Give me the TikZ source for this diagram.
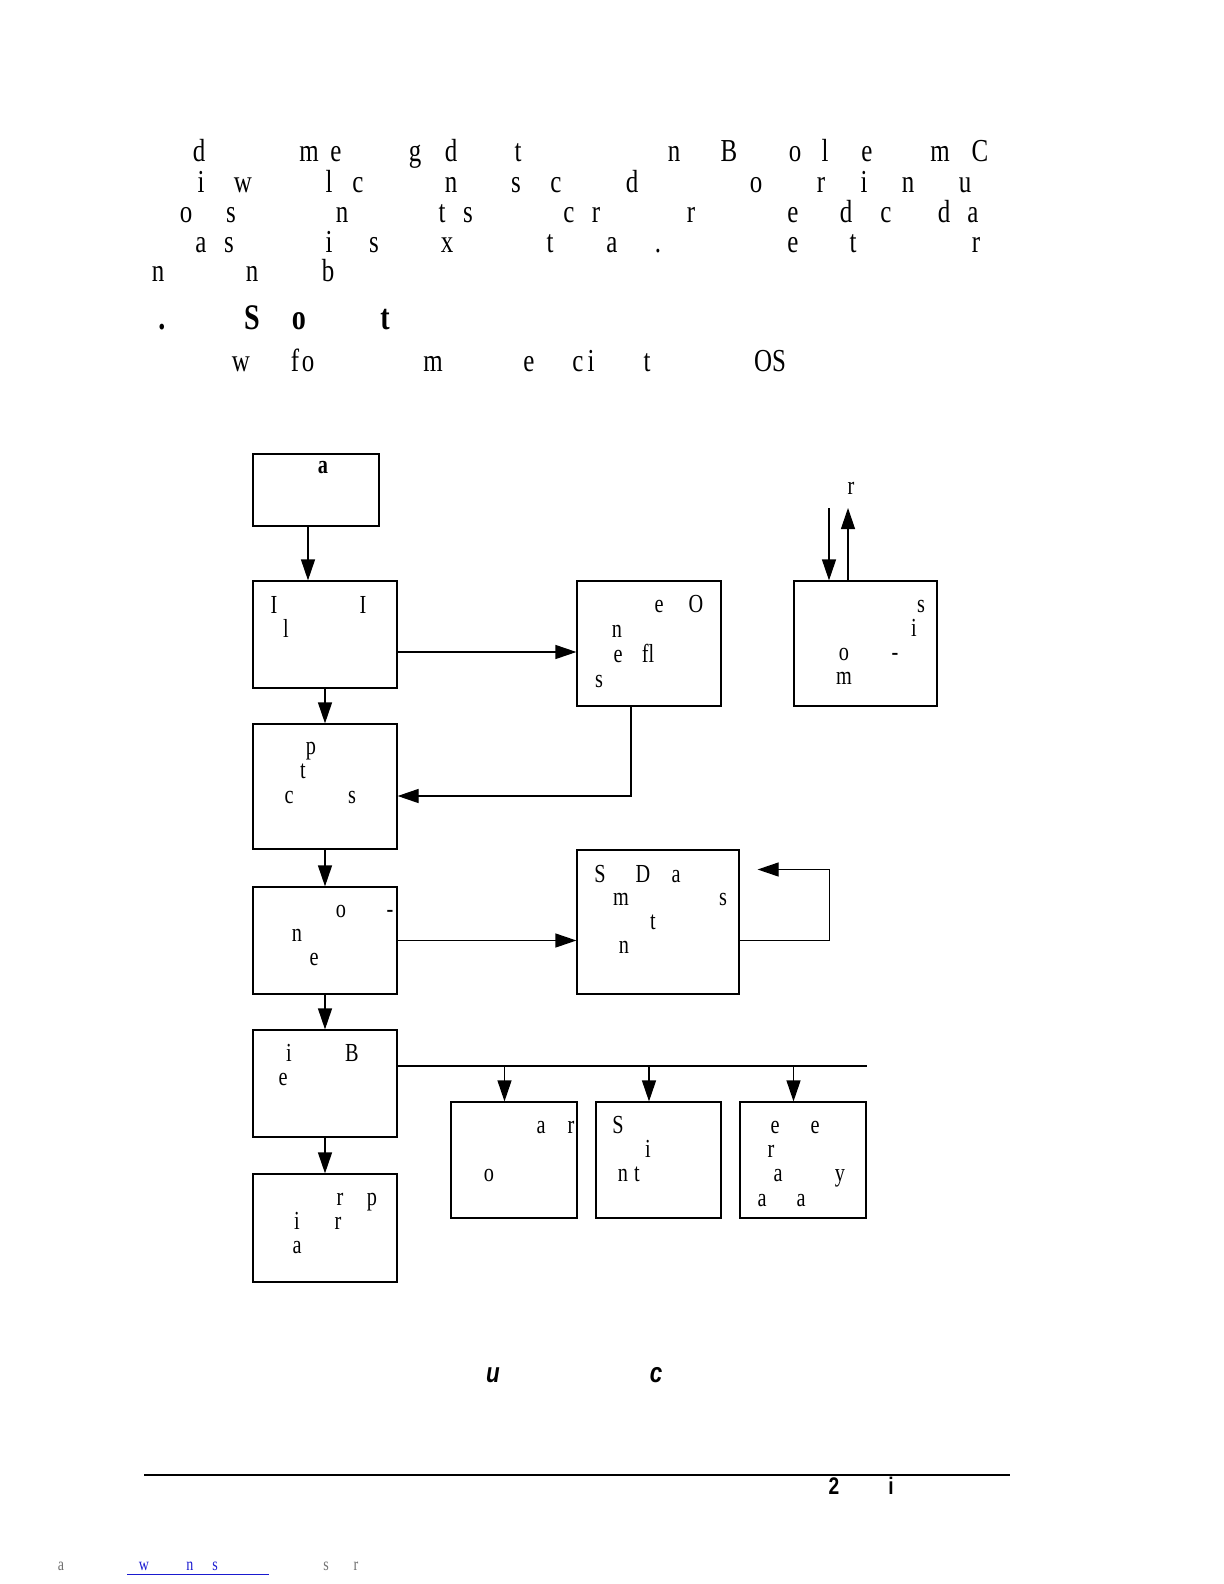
\documentclass[tikz,border=0pt]{standalone}
\usepackage{fontspec}
\newfontfamily\pageserif{Liberation Serif}[FakeStretch=0.78]
\newfontfamily\pagesans{Liberation Sans}[FakeStretch=0.8]
\usetikzlibrary{arrows.meta}
\definecolor{LinkBlue}{HTML}{1A1AD0}
\definecolor{NoteGray}{HTML}{707070}
\tikzset{
  page glyph/.style={anchor=base,inner sep=0pt,font=\pageserif\fontsize{16}{18}\selectfont},
  page head/.style={page glyph,font=\pageserif\bfseries\fontsize{18}{21}\selectfont},
  box glyph/.style={page glyph,font=\pageserif\fontsize{13}{15}\selectfont},
  box title/.style={page glyph,font=\pageserif\bfseries\fontsize{13}{15}\selectfont},
  page box/.style={draw,line width=0.6pt,inner sep=0pt},
  page flow/.style={-{Triangle[length=10.5pt,width=7pt]},line width=0.6pt},
  page line/.style={line width=0.6pt},
  caption glyph/.style={anchor=base,inner sep=0pt,font=\pagesans\bfseries\itshape\fontsize{14}{16}\selectfont},
  foot glyph/.style={anchor=base,inner sep=0pt,font=\pagesans\bfseries\fontsize{12}{14}\selectfont},
  note glyph/.style={anchor=base,inner sep=0pt,text=NoteGray,font=\pageserif\fontsize{9}{11}\selectfont},
  link glyph/.style={note glyph,text=LinkBlue}
}
\begin{document}
\begin{tikzpicture}[x=0.5pt,y=-0.5pt]
  \useasboundingbox (0,0) rectangle (1224,1584);

  % running text above the figure
  \foreach \cx/\t [count=\i] in {199/d,309/m,336/e,415/g,451/d,518/t,674/n,729/B,795/o,825/l,867/e,940/m,980/C}
    \node[page glyph] (ta\i) at (\cx,162) {\t};
  \foreach \cx/\t [count=\i] in {201/i,243/w,329/l,358/c,451/n,516/s,556/c,632/d,756/o,821/r,864/i,908/n,965/u}
    \node[page glyph] (tb\i) at (\cx,192) {\t};
  \foreach \cx/\t [count=\i] in {186/o,231/s,342/n,442/t,468/s,569/c,596/r,691/r,793/e,846/d,886/c,944/d,973/a}
    \node[page glyph] (tc\i) at (\cx,222) {\t};
  \foreach \cx/\t [count=\i] in {201/a,229/s,329/i,374/s,447/x,550/t,612/a,658/.,793/e,853/t,976/r}
    \node[page glyph] (td\i) at (\cx,252) {\t};
  \foreach \cx/\t [count=\i] in {158/n,252/n,328/b}
    \node[page glyph] (te\i) at (\cx,281) {\t};
  \foreach \cx/\t [count=\i] in {162/.,252/S,299/o,385/t}
    \node[page head] (hd\i) at (\cx,329) {\t};
  \foreach \cx/\t [count=\i] in {241/w,295/f,308/o,433/m,529/e,578/c,591/i,647/t,770/OS}
    \node[page glyph] (tf\i) at (\cx,371) {\t};

  % boxes
  \node[page box,minimum width=63pt,minimum height=36pt] (A) at (316,490) {};
  \node[page box,minimum width=72pt,minimum height=53.5pt] (B) at (325,634.5) {};
  \node[page box,minimum width=72pt,minimum height=62.5pt] (C) at (649,643.5) {};
  \node[page box,minimum width=71.5pt,minimum height=62.5pt] (D) at (865.5,643.5) {};
  \node[page box,minimum width=72pt,minimum height=62.5pt] (E) at (325,786.5) {};
  \node[page box,minimum width=72pt,minimum height=53.5pt] (F) at (325,940.5) {};
  \node[page box,minimum width=81pt,minimum height=72pt] (G) at (658,922) {};
  \node[page box,minimum width=72pt,minimum height=53.5pt] (H) at (325,1083.5) {};
  \node[page box,minimum width=63pt,minimum height=58pt] (I) at (514,1160) {};
  \node[page box,minimum width=62.5pt,minimum height=58pt] (J) at (658.5,1160) {};
  \node[page box,minimum width=63pt,minimum height=58pt] (K) at (803,1160) {};
  \node[page box,minimum width=72pt,minimum height=54pt] (L) at (325,1228) {};

  % box texts
  \node[box title] (A1) at (323,473) {a};
  \foreach \cx/\cy/\t [count=\i] in {274/613/I,363/613/I,286/637/l}
    \node[box glyph] (B\i) at (\cx,\cy) {\t};
  \foreach \cx/\cy/\t [count=\i] in {659/612/e,696/612/O,617/637/n,618/662/e,648/662/fl,599/687/s}
    \node[box glyph] (C\i) at (\cx,\cy) {\t};
  \foreach \cx/\cy/\t [count=\i] in {921/612/s,914/636/i,844/660/o,895/660/-,844/684/m}
    \node[box glyph] (D\i) at (\cx,\cy) {\t};
  \foreach \cx/\cy/\t [count=\i] in {311/754/p,303/778/t,289/803/c,352/803/s}
    \node[box glyph] (E\i) at (\cx,\cy) {\t};
  \foreach \cx/\cy/\t [count=\i] in {341/917/o,390/917/-,297/941/n,314/965/e}
    \node[box glyph] (F\i) at (\cx,\cy) {\t};
  \foreach \cx/\cy/\t [count=\i] in {600/882/S,643/882/D,676/882/a,621/905/m,723/905/s,653/929/t,624/953/n}
    \node[box glyph] (G\i) at (\cx,\cy) {\t};
  \foreach \cx/\cy/\t [count=\i] in {289/1061/i,352/1061/B,283/1085/e}
    \node[box glyph] (H\i) at (\cx,\cy) {\t};
  \foreach \cx/\cy/\t [count=\i] in {541/1133/a,571/1133/r,489/1181/o}
    \node[box glyph] (I\i) at (\cx,\cy) {\t};
  \foreach \cx/\cy/\t [count=\i] in {618/1133/S,648/1157/i,623/1181/n,637/1181/t}
    \node[box glyph] (J\i) at (\cx,\cy) {\t};
  \foreach \cx/\cy/\t [count=\i] in {775/1133/e,815/1133/e,771/1157/r,778/1181/a,840/1181/y,762/1206/a,801/1206/a}
    \node[box glyph] (K\i) at (\cx,\cy) {\t};
  \foreach \cx/\cy/\t [count=\i] in {340/1205/r,372/1205/p,297/1229/i,338/1229/r,297/1253/a}
    \node[box glyph] (L\i) at (\cx,\cy) {\t};

  % connectors
  \draw[page flow] ([xshift=-4pt]A.south) -- ([xshift=-4pt]A.south |- B.north);
  \draw[page flow] ([yshift=-8.75pt]B.east) -- ([yshift=-8.75pt]B.east -| C.west);
  \draw[page flow] (B) -- (E);
  \draw[page flow] ([xshift=-9pt]C.south) |- ([yshift=-4.75pt]E.east);
  \draw[page flow] (E) -- (F);
  \draw[page flow] (F.east) -- (F.east -| G.west);
  \draw[page flow] (G.east |- F.east) -- ++(90,0) -- ++(0,-71) -- ++(-72,0);
  \draw[page flow] (F) -- (H);
  \draw[page flow] (H) -- (L);

  % bus to the three small boxes
  \draw[page line] ([yshift=8.75pt]H.east) coordinate (bus) -- (bus -| K.east);
  \foreach \n in {I,J,K} {
    \path ([xshift=-4.75pt]\n.north) coordinate (tip\n);
    \draw[page flow] (tip\n |- bus) -- (tip\n);
  }

  % in and out of the right box
  \node[box glyph] (R1) at (851,494) {r};
  \coordinate (inD) at (829,508);
  \coordinate (outD) at (848,508);
  \draw[page flow] (inD) -- (inD |- D.north);
  \draw[page flow] (outD |- D.north) -- (outD);

  % caption
  \node[caption glyph] (cap1) at (493,1382) {u};
  \node[caption glyph] (cap2) at (656,1382) {c};

  % footer
  \draw[page line] (144,1475) -- (1010,1475);
  \node[foot glyph] (ft1) at (834,1494) {2};
  \node[foot glyph] (ft2) at (891,1494) {i};
  \node[note glyph] (nt1) at (61,1570) {a};
  \foreach \cx/\t [count=\i] in {144/w,190/n,215/s}
    \node[link glyph] (lk\i) at (\cx,1570) {\t};
  \draw[LinkBlue,line width=0.5pt] (127,1574) -- (269,1574);
  \node[note glyph] (nt2) at (326,1570) {s};
  \node[note glyph] (nt3) at (356,1570) {r};
\end{tikzpicture}
\end{document}
